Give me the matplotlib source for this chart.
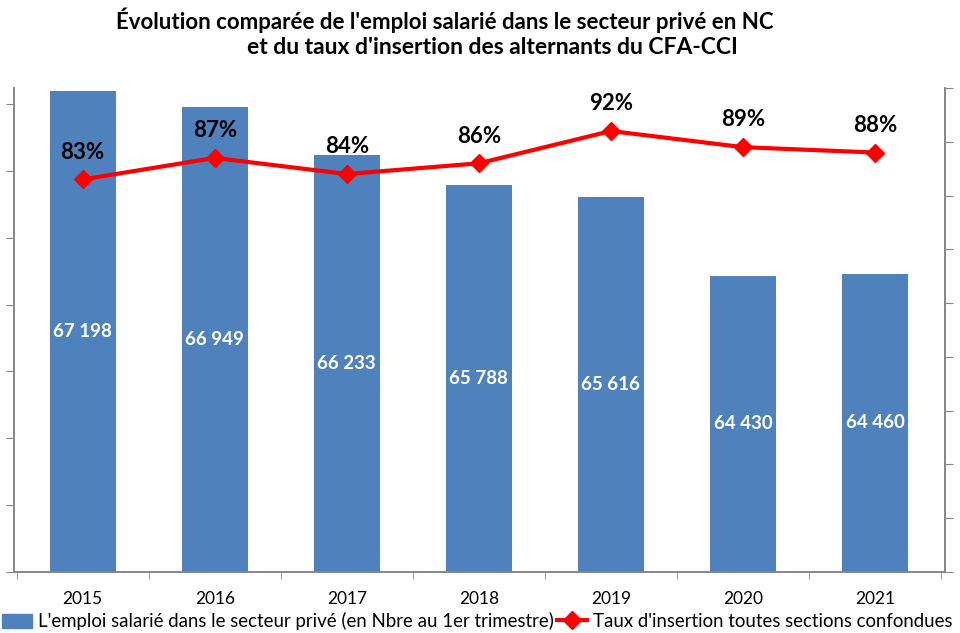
import numpy as np
import matplotlib.pyplot as plt

plt.rcParams['font.family'] = ['Lato', 'DejaVu Sans']

years = ['2015', '2016', '2017', '2018', '2019', '2020', '2021']
emploi = [67198, 66949, 66233, 65788, 65616, 64430, 64460]
insertion = [0.83, 0.87, 0.84, 0.86, 0.92, 0.89, 0.88]

bar_color = '#4f81bd'
line_color = '#ff0000'
spine_color = '#868686'

fig = plt.figure(figsize=(9.6, 6.33), dpi=100)
ax = fig.add_axes([14 / 960, 61 / 633, 931 / 960, 484 / 633])
x = np.arange(len(years))

ax.bar(x, emploi, width=0.5, color=bar_color, zorder=2)
ax.set_ylim(60000, 67240)
ax.set_xlim(-0.52, 6.53)
ax.set_yticks(np.arange(60000, 67001, 1000))
ax.set_yticklabels([])
for xi, v in zip(x, emploi):
    top = min(v, 67240)
    ax.text(xi, (60000 + top) / 2, f"{v:,}".replace(",", " "), ha='center', va='center',
            color='white', fontsize=13.5, fontweight='bold', zorder=3)

ax.set_xticks(x)
ax.set_xticklabels(years, fontsize=12.5)
ax.set_xticks(np.arange(-0.5, 7, 1), minor=True)
ax.tick_params(axis='x', which='major', length=0, pad=14)
ax.tick_params(axis='x', which='minor', length=5, color=spine_color, direction='out')
ax.tick_params(axis='y', length=6, color=spine_color, direction='out')
for s in ['left', 'bottom', 'right']:
    ax.spines[s].set_color(spine_color)
    ax.spines[s].set_linewidth(1.2)
ax.spines['top'].set_visible(False)

ax2 = ax.twinx()
ax2.plot(x, insertion, color=line_color, lw=3, marker='D', markersize=9.5, zorder=4)
ax2.set_ylim(0.10, 1.00)
ax2.set_yticks(np.arange(0.10, 1.001, 0.10))
ax2.set_yticklabels([])
ax2.tick_params(axis='y', length=6, color=spine_color, direction='out')
for s in ['left', 'bottom', 'right']:
    ax2.spines[s].set_color(spine_color)
    ax2.spines[s].set_linewidth(1.2)
ax2.spines['top'].set_visible(False)
for xi, v in zip(x, insertion):
    ax2.annotate(f"{v:.0%}", (xi, v), xytext=(0, 12), textcoords='offset points',
                 ha='center', va='bottom', fontsize=16, fontweight='bold')

fig.text(445 / 960, 1 - 20 / 633, "Évolution comparée de l'emploi salarié dans le secteur privé en NC",
         ha='center', va='center', fontsize=16, fontweight='bold')
fig.text(492 / 960, 1 - 48 / 633, "et du taux d'insertion des alternants du CFA-CCI",
         ha='center', va='center', fontsize=16.5, fontweight='bold')

h1 = plt.Rectangle((0, 0), 1, 1, color=bar_color)
h2 = plt.Line2D([], [], color=line_color, lw=3, marker='D', markersize=9.5)
fig.legend([h1, h2], ["L'emploi salarié dans le secteur privé (en Nbre au 1er trimestre)",
                      "Taux d'insertion toutes sections confondues"],
           loc='lower center', bbox_to_anchor=(0.497, -0.022), ncol=2, frameon=False,
           fontsize=13.4, handlelength=1.6, handleheight=0.8, handletextpad=0.3,
           columnspacing=0.2)

fig.savefig('out.png', dpi=100)
